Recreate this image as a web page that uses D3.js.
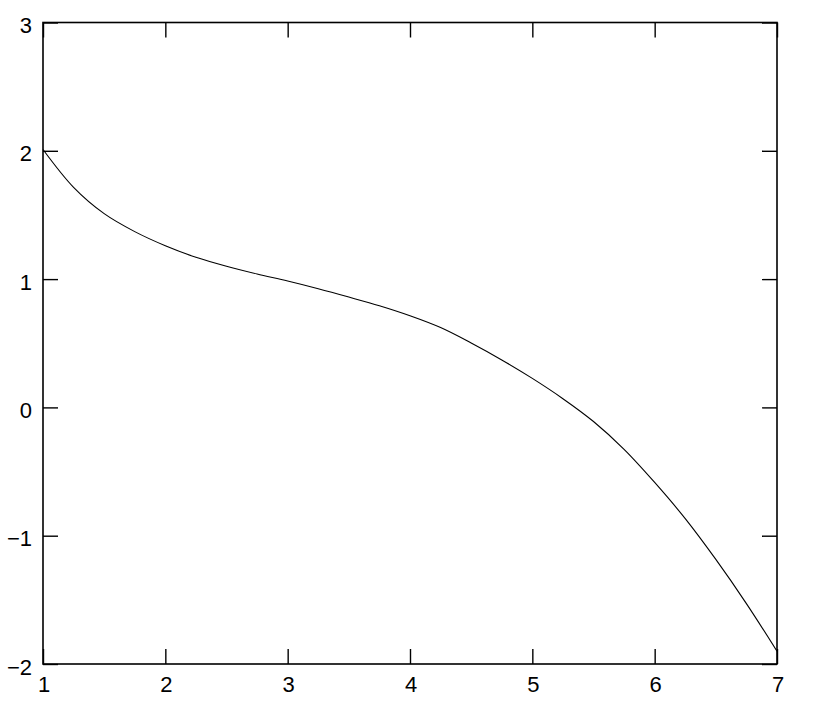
<!DOCTYPE html>
<html>
<head>
<meta charset="utf-8">
<script src="https://cdn.jsdelivr.net/npm/d3@7"></script>
<style>
  html, body { margin: 0; padding: 0; background: #fff; }
  svg { display: block; }
  text { font-family: "Liberation Sans", Arial, sans-serif; font-size: 22px; fill: #000; }
</style>
</head>
<body>
<svg id="chart" width="817" height="703"></svg>
<script>
// Data
const xValues = [1, 1.25, 1.5, 1.75, 2, 2.25, 2.5, 2.75, 3, 3.25, 3.5, 3.75, 4, 4.25, 4.5, 4.75, 5, 5.25, 5.5, 5.75, 6, 6.25, 6.5, 6.75, 7];
const yValues = [2.01, 1.715, 1.51, 1.37, 1.26, 1.17, 1.10, 1.04, 0.985, 0.925, 0.86, 0.792, 0.714, 0.622, 0.502, 0.37, 0.226, 0.068, -0.11, -0.327, -0.585, -0.867, -1.185, -1.529, -1.9];
const xTicks = [1, 2, 3, 4, 5, 6, 7];
const yTicks = [-2, -1, 0, 1, 2, 3];

const svg = d3.select("#chart");
const mLeft = 43, mRight = 777, mTop = 22.5, mBottom = 664;

const x = d3.scaleLinear().domain([1, 7]).range([mLeft, mRight]);
const y = d3.scaleLinear().domain([-2, 3]).range([mBottom, mTop]);
const tickLen = 15;

// Frame
svg.append("rect")
  .attr("x", mLeft).attr("y", mTop)
  .attr("width", mRight - mLeft).attr("height", mBottom - mTop)
  .attr("fill", "none").attr("stroke", "#000").attr("stroke-width", 1.6);

// Inward ticks on all four sides using d3 axes
const axB = svg.append("g").attr("transform", `translate(0,${mBottom})`)
  .call(d3.axisBottom(x).tickValues(xTicks).tickSize(-tickLen).tickFormat(""));
const axT = svg.append("g").attr("transform", `translate(0,${mTop})`)
  .call(d3.axisTop(x).tickValues(xTicks).tickSize(-tickLen).tickFormat(""));
const axL = svg.append("g").attr("transform", `translate(${mLeft},0)`)
  .call(d3.axisLeft(y).tickValues(yTicks).tickSize(-tickLen).tickFormat(""));
const axR = svg.append("g").attr("transform", `translate(${mRight},0)`)
  .call(d3.axisRight(y).tickValues(yTicks).tickSize(-tickLen).tickFormat(""));
[axB, axT, axL, axR].forEach(g => {
  g.select(".domain").remove();
  g.selectAll(".tick line").attr("stroke", "#000").attr("stroke-width", 1.4);
});

// Tick labels
const fmt = d3.format("d");
svg.append("g").selectAll("text").data(xTicks).join("text")
  .attr("x", d => x(d) + 1).attr("y", 692)
  .attr("text-anchor", "middle")
  .text(d => fmt(d));

svg.append("g").selectAll("text").data(yTicks).join("text")
  .attr("x", 32).attr("y", d => y(d) + 10.5)
  .attr("text-anchor", "end")
  .text(d => fmt(d));

// Curve
const pts = xValues.map((v, i) => [v, yValues[i]]);
svg.append("path")
  .datum(pts)
  .attr("fill", "none").attr("stroke", "#000").attr("stroke-width", 1.1)
  .attr("d", d3.line().x(d => x(d[0])).y(d => y(d[1])).curve(d3.curveCatmullRom));
</script>
</body>
</html>
